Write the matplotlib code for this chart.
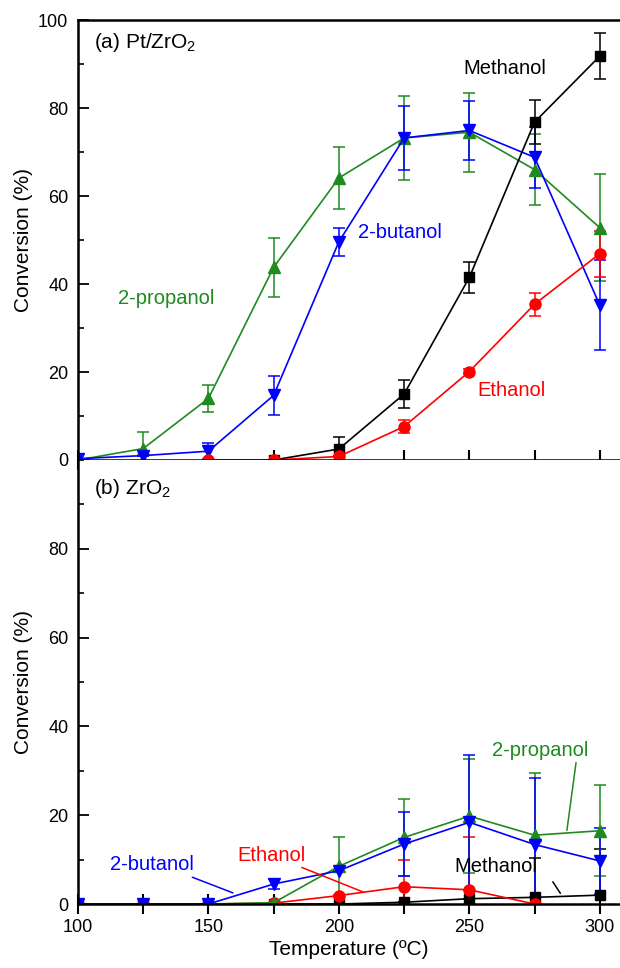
import matplotlib
matplotlib.use('Agg')
import matplotlib.pyplot as plt
import numpy as np
from matplotlib.ticker import MultipleLocator

plt.rcParams['font.family'] = ['Liberation Sans', 'DejaVu Sans']
plt.rcParams['mathtext.fontset'] = 'custom'
plt.rcParams['mathtext.rm'] = 'Liberation Sans'
plt.rcParams['mathtext.default'] = 'regular'

nan = np.nan
temps = [100, 125, 150, 175, 200, 225, 250, 275, 300]

# (a) Pt/ZrO2
a_methanol = [nan, nan, nan, 0, 2.5, 15.0, 41.5, 76.8, 91.8]
a_methanol_err = [nan, nan, nan, 0, 2.7, 3.2, 3.5, 5.0, 5.2]
a_ethanol = [nan, nan, 0, 0, 0.8, 7.6, 20.1, 35.4, 46.9]
a_ethanol_err = [nan, nan, 0, 0, 0, 1.5, 0.5, 2.6, 5.2]
a_propanol = [0, 2.6, 14.0, 43.8, 64.1, 73.2, 74.5, 66.0, 52.8]
a_propanol_err = [0, 3.7, 3.1, 6.7, 7.1, 9.5, 9.0, 8.0, 12.1]
a_butanol = [0.3, 1.0, 2.0, 14.7, 49.6, 73.2, 74.9, 68.8, 35.2]
a_butanol_err = [0, 0, 1.8, 4.4, 3.2, 7.3, 6.7, 7.0, 10.2]

# (b) ZrO2
b_methanol = [0, 0, 0, 0, 0, 0.4, 1.2, 1.5, 2.0]
b_methanol_err = [0, 0, 0, 0, 0, 0, 0, 8.8, 10.4]
b_ethanol = [0, 0, 0, 0.2, 1.9, 3.9, 3.2, 0, nan]
b_ethanol_err = [0, 0, 0, 0, 0, 6.0, 12.0, 0, nan]
b_propanol = [0, 0, 0, 0.3, 8.5, 15.0, 19.8, 15.5, 16.5]
b_propanol_err = [0, 0, 0, 0, 6.5, 8.7, 12.8, 14.0, 10.3]
b_butanol = [0, 0, 0, 4.5, 7.5, 13.5, 18.4, 13.4, 9.7]
b_butanol_err = [0, 0, 0, 1.2, 0, 7.2, 15.2, 15.0, 7.4]

GREEN = '#1f8a1f'
BLUE = '#0000ff'
RED = '#ff0000'
BLACK = '#000000'

series_style = [
    ('propanol', GREEN, '^'),
    ('butanol', BLUE, 'v'),
    ('methanol', BLACK, 's'),
    ('ethanol', RED, 'o'),
]


def draw(ax, data, order):
    for name, color, marker in order:
        y, err = data[name]
        ax.errorbar(temps, y, yerr=err, color=color, marker=marker, ms=8 if marker != 's' else 7,
                    lw=1.2, elinewidth=1.1, capsize=4, capthick=1.1, mec=color, mfc=color)


def style_axis(ax):
    ax.set_xlim(100, 307.7)
    ax.set_ylim(0, 100)
    ax.xaxis.set_major_locator(MultipleLocator(50))
    ax.xaxis.set_minor_locator(MultipleLocator(25))
    ax.yaxis.set_minor_locator(MultipleLocator(10))
    ax.tick_params(axis='x', which='both', direction='inout', length=14, width=1.5, labelsize=13, pad=4)
    ax.tick_params(axis='y', which='major', direction='in', length=8, width=1.3, labelsize=13, pad=7)
    ax.tick_params(axis='y', which='minor', direction='in', length=4, width=1.2)
    ax.spines['right'].set_visible(False)
    for s in ['left', 'bottom', 'top']:
        ax.spines[s].set_linewidth(1.8)
    ax.set_ylabel('Conversion (%)', fontsize=15)
    ax.yaxis.set_label_coords(-0.083, 0.5)


fig = plt.figure(figsize=(6.2, 9.68), dpi=100)
ax1 = fig.add_axes([0.1258, 0.5248, 0.874, 0.4545])
ax2 = fig.add_axes([0.1258, 0.0661, 0.874, 0.4587])

draw(ax1, {'propanol': (a_propanol, a_propanol_err), 'butanol': (a_butanol, a_butanol_err),
           'ethanol': (a_ethanol, a_ethanol_err), 'methanol': (a_methanol, a_methanol_err)},
     series_style)
draw(ax2, {'propanol': (b_propanol, b_propanol_err), 'butanol': (b_butanol, b_butanol_err),
           'ethanol': (b_ethanol, b_ethanol_err), 'methanol': (b_methanol, b_methanol_err)},
     [series_style[2], series_style[3], series_style[0], series_style[1]])

for ax in (ax1, ax2):
    style_axis(ax)

ax1.set_yticks([0, 20, 40, 60, 80, 100])
ax1.tick_params(axis='x', labelbottom=False)
ax2.set_yticks([0, 20, 40, 60, 80])
ax2.spines['top'].set_visible(False)
ax2.set_xlabel('Temperature (ºC)', fontsize=15, labelpad=3)

ax1.text(106, 95, '(a) Pt/ZrO$_2$', fontsize=15, va='center', ha='left')
ax1.text(263.6, 88.9, 'Methanol', fontsize=14.5, color=BLACK, ha='center', va='center')
ax1.text(223.4, 51.6, '2-butanol', fontsize=14.5, color=BLUE, ha='center', va='center')
ax1.text(133.7, 36.8, '2-propanol', fontsize=14.5, color=GREEN, ha='center', va='center')
ax1.text(266.3, 15.9, 'Ethanol', fontsize=14.5, color=RED, ha='center', va='center')

ax2.text(106, 93.5, '(b) ZrO$_2$', fontsize=15, va='center', ha='left')
line = dict(arrowstyle='-', lw=1.1, shrinkA=0, shrinkB=0)
ax2.annotate('2-propanol', xy=(287.4, 16.6), xytext=(277, 34.6), fontsize=14.5, color=GREEN,
             ha='center', va='center', arrowprops=dict(line, color=GREEN, relpos=(0.88, 0.0)))
ax2.annotate('2-butanol', xy=(159.4, 2.5), xytext=(128.2, 8.8), fontsize=14.5, color=BLUE,
             ha='center', va='center', arrowprops=dict(line, color=BLUE, relpos=(0.9, 0.0)))
ax2.annotate('Ethanol', xy=(209.3, 2.7), xytext=(174, 11), fontsize=14.5, color=RED,
             ha='center', va='center', arrowprops=dict(line, color=RED, relpos=(0.85, 0.0)))
ax2.text(260.2, 8.4, 'Methanol', fontsize=14.5, color=BLACK, ha='center', va='center')
ax2.annotate('', xy=(284.9, 2.4), xytext=(282, 5.0), arrowprops=dict(line, color=BLACK))

fig.savefig('out.png', dpi=100)
